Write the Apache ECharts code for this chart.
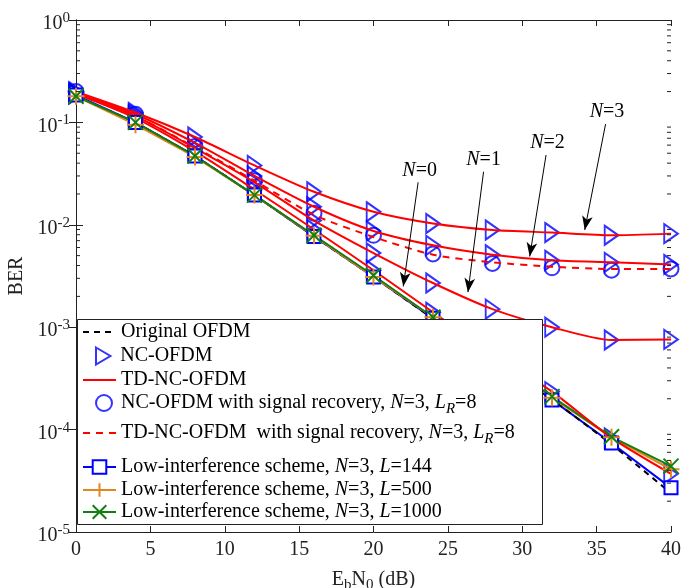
<!DOCTYPE html>
<html>
<head>
<meta charset="UTF-8">
<title>BER</title>
<script src="https://cdn.jsdelivr.net/npm/echarts@6/dist/echarts.min.js"></script>
</head>
<body style="margin:0">
<div id="main" style="width:683px;height:588px"></div>
<script>
// Eb/N0 points (dB)
var ebn0 = [0, 4, 8, 12, 16, 20, 24, 28, 32, 36, 40];

// BER curves
var berOriginal = [0.18, 0.1, 0.047, 0.0195, 0.0077, 0.0031, 0.00121, 0.00051, 0.000198, 0.000072, 0.000024];
var berN0 = [0.19, 0.11, 0.052, 0.022, 0.009, 0.0036, 0.0014, 0.00056, 0.000235, 0.000083, 0.000037];
var berN1 = [0.19, 0.115, 0.056, 0.026, 0.011, 0.0053, 0.0027, 0.0015, 0.001, 0.00075, 0.00076];
var berN2 = [0.195, 0.12, 0.063, 0.03, 0.015, 0.0087, 0.0063, 0.0051, 0.0045, 0.0043, 0.0041];
var berN3 = [0.2, 0.125, 0.072, 0.038, 0.021, 0.0134, 0.0103, 0.0089, 0.0084, 0.0079, 0.0082];
var berRecNC = [0.2, 0.12, 0.058, 0.027, 0.013, 0.0079, 0.0052, 0.0042, 0.0038, 0.0036, 0.0037];
var berRecTD = [0.19, 0.115, 0.057, 0.027, 0.0125, 0.0076, 0.0051, 0.0043, 0.0039, 0.0037, 0.0037];
var berL144 = [0.185, 0.1, 0.047, 0.0195, 0.0077, 0.0031, 0.00122, 0.00052, 0.000195, 0.000074, 0.000027];
var berL500 = [0.18, 0.095, 0.046, 0.0195, 0.0078, 0.0031, 0.00125, 0.00053, 0.000205, 0.000084, 0.000041];
var berL1000 = [0.18, 0.1, 0.047, 0.0195, 0.0079, 0.0032, 0.00125, 0.00053, 0.00021, 0.000085, 0.000044];

var yDecades = [1e-5, 1e-4, 1e-3, 1e-2, 1e-1];
var minorTicks = [];
yDecades.forEach(function (d) {
    for (var k = 2; k <= 9; k++) minorTicks.push([0, k * d]);
});

// arrows: text, text position, arrow start, arrow end (data coords)
var notes = [
    {text: '0', at: [23.1, 0.034], from: [23.0, 0.026], to: [22.0, 0.0025]},
    {text: '1', at: [27.4, 0.043], from: [27.4, 0.033], to: [26.35, 0.0022]},
    {text: '2', at: [31.7, 0.063], from: [31.6, 0.048], to: [30.5, 0.0049]},
    {text: '3', at: [35.7, 0.126], from: [35.6, 0.096], to: [34.2, 0.0089]}
];

function pts(arr) {
    return ebn0.map(function (x, i) { return [x, arr[i]]; });
}

var FONT = "'Liberation Serif', 'Times New Roman', serif";
var BLUE = '#0000ff', RED = '#ff0000', GREEN = '#118011', ORANGE = '#e3861c';
var triSym = 'path://M0,0L17,10L0,20Z';
var plusSym = 'path://M8,0L8,16M0,8L16,8';
var crossSym = 'path://M0,0L14,14M0,14L14,0';

var series = [];

// low-interference + original first (drawn below)
series.push({
    name: 'Low-interference scheme, N=3, L=144', type: 'line', data: pts(berL144),
    symbol: 'rect', symbolSize: 13,
    lineStyle: {color: BLUE, width: 2},
    itemStyle: {color: '#fff', borderColor: BLUE, borderWidth: 2}
});
series.push({
    name: 'Original OFDM', type: 'line', data: pts(berOriginal), symbol: 'none',
    lineStyle: {color: '#000', width: 2, type: [6, 5]}, itemStyle: {color: '#000'},
    markLine: {
        silent: true, symbol: ['none', 'arrow'], symbolSize: [8, 14],
        lineStyle: {color: '#000', width: 1, type: 'solid'},
        label: {show: false},
        data: notes.map(function (n) {
            return [{coord: n.from}, {coord: n.to}];
        })
    },
    markPoint: {
        silent: true, symbol: 'circle', symbolSize: 0,
        label: {
            show: true, position: 'inside', color: '#000', fontFamily: FONT, fontSize: 20,
            formatter: function (p) { return '{i|N}=' + p.name; },
            rich: {i: {fontStyle: 'italic', fontFamily: FONT, fontSize: 20, color: '#000'}}
        },
        data: notes.map(function (n) { return {name: n.text, coord: n.at}; })
    }
});
series.push({
    name: 'Low-interference scheme, N=3, L=500', type: 'line', data: pts(berL500),
    symbol: plusSym, symbolSize: 17,
    lineStyle: {color: ORANGE, width: 2},
    itemStyle: {color: 'rgba(0,0,0,0)', borderColor: ORANGE, borderWidth: 2}
});
series.push({
    name: 'Low-interference scheme, N=3, L=1000', type: 'line', data: pts(berL1000),
    symbol: crossSym, symbolSize: 15,
    lineStyle: {color: GREEN, width: 2},
    itemStyle: {color: 'rgba(0,0,0,0)', borderColor: GREEN, borderWidth: 2}
});

[berN0, berN1, berN2, berN3].forEach(function (arr) {
    series.push({
        name: 'TD-NC-OFDM', type: 'line', data: pts(arr), symbol: 'none', smooth: 0.25,
        lineStyle: {color: RED, width: 2}, itemStyle: {color: RED}
    });
});
series.push({
    name: 'TD-NC-OFDM with signal recovery', type: 'line', data: pts(berRecTD), symbol: 'none', smooth: 0.25,
    lineStyle: {color: RED, width: 2, type: [7, 6]}, itemStyle: {color: RED}
});
[berN0, berN1, berN2, berN3].forEach(function (arr) {
    series.push({
        name: 'NC-OFDM', type: 'scatter', data: pts(arr),
        symbol: triSym, symbolSize: [16, 19], symbolKeepAspect: true,
        itemStyle: {color: 'rgba(0,0,0,0)', borderColor: BLUE, borderWidth: 2}
    });
});
series.push({
    name: 'NC-OFDM with signal recovery', type: 'scatter', data: pts(berRecNC),
    symbol: 'circle', symbolSize: 15,
    itemStyle: {color: 'rgba(0,0,0,0)', borderColor: BLUE, borderWidth: 2}
});

// log minor ticks on both sides
series.push({
    type: 'custom', silent: true, clip: false, data: minorTicks, z: 10,
    encode: {x: 0, y: 1},
    renderItem: function (params, api) {
        var v = api.value(1);
        var a = api.coord([0, v]), b = api.coord([40, v]);
        return {type: 'group', children: [
            {type: 'line', shape: {x1: a[0], y1: a[1], x2: a[0] + 4, y2: a[1]}, style: {stroke: '#222', lineWidth: 1}},
            {type: 'line', shape: {x1: b[0] - 4, y1: b[1], x2: b[0], y2: b[1]}, style: {stroke: '#222', lineWidth: 1}}
        ]};
    }
});

var rich = {
    i: {fontStyle: 'italic', fontFamily: FONT, fontSize: 20, color: '#000'},
    sub: {fontStyle: 'italic', fontFamily: FONT, fontSize: 15, color: '#000', padding: [12, 0, 0, 0]}
};
// name, row centre y, label, kind (line / marker / both)
var legendRows = [
    ['Original OFDM', 333, 'Original OFDM', 'line'],
    ['NC-OFDM', 357, 'NC-OFDM', 'marker'],
    ['TD-NC-OFDM', 381, 'TD-NC-OFDM', 'line'],
    ['NC-OFDM with signal recovery', 404, 'NC-OFDM with signal recovery, {i|N}=3, {i|L}{sub|R}=8', 'marker'],
    ['TD-NC-OFDM with signal recovery', 434, 'TD-NC-OFDM  with signal recovery, {i|N}=3, {i|L}{sub|R}=8', 'line'],
    ['Low-interference scheme, N=3, L=144', 468, 'Low-interference scheme, {i|N}=3, {i|L}=144', 'both'],
    ['Low-interference scheme, N=3, L=500', 491, 'Low-interference scheme, {i|N}=3, {i|L}=500', 'both'],
    ['Low-interference scheme, N=3, L=1000', 513, 'Low-interference scheme, {i|N}=3, {i|L}=1000', 'both']
];
var legends = legendRows.map(function (r) {
    var lg = {
        data: [r[0]], left: 82, top: r[1] - 11, padding: 0,
        itemWidth: 33, itemHeight: 17, itemGap: 0, selectedMode: false, z: 20,
        formatter: function () { return r[2]; },
        textStyle: {fontFamily: FONT, fontSize: 20, color: '#000', rich: rich}
    };
    if (r[3] === 'line') {
        lg.itemStyle = {opacity: 0};
    } else if (r[3] === 'marker') {
        lg.left = 95;
        lg.itemWidth = 16;
        lg.textStyle.padding = [0, 0, 0, 4];
    }
    return lg;
});

var axisText = {fontFamily: FONT, fontSize: 20, color: '#222'};

var option = {
    animation: false,
    backgroundColor: '#fff',
    grid: {left: 76, right: 12, top: 20, bottom: 56, containLabel: false, outerBoundsMode: 'none'},
    legend: legends,
    graphic: [{
        type: 'rect', left: 77, top: 319, z: 15,
        shape: {width: 465, height: 205},
        style: {fill: '#fff', stroke: '#222', lineWidth: 1}
    }],
    xAxis: [{
        type: 'value', min: 0, max: 40, interval: 5,
        name: 'E{sub|b}N{sub|0} (dB)', nameLocation: 'middle', nameGap: 34,
        nameTextStyle: {fontFamily: FONT, fontSize: 20, color: '#222',
            rich: {sub: {fontFamily: FONT, fontSize: 15, color: '#222', padding: [12, 0, 0, 0]}}},
        axisLine: {lineStyle: {color: '#222'}},
        axisTick: {inside: true, length: 6, lineStyle: {color: '#222'}},
        axisLabel: Object.assign({margin: 8}, axisText),
        splitLine: {show: false}
    }, {
        type: 'value', min: 0, max: 40, interval: 5, position: 'top',
        axisLine: {lineStyle: {color: '#222'}},
        axisTick: {inside: true, length: 6, lineStyle: {color: '#222'}},
        axisLabel: {show: false}, splitLine: {show: false}
    }],
    yAxis: [{
        type: 'log', logBase: 10, min: 1e-5, max: 1,
        name: 'BER', nameLocation: 'middle', nameGap: 47,
        nameTextStyle: {fontFamily: FONT, fontSize: 20, color: '#222'},
        axisLine: {show: true, lineStyle: {color: '#222'}},
        axisTick: {show: true, inside: true, length: 7, lineStyle: {color: '#222'}},
        axisLabel: Object.assign({
            margin: 6, padding: [8, 0, 0, 0],
            formatter: function (v) { return '10{sup|' + Math.round(Math.log10(v)) + '}'; },
            rich: {sup: {fontFamily: FONT, fontSize: 15, color: '#222', padding: [0, 0, 12, 0]}}
        }, axisText),
        splitLine: {show: false}
    }, {
        type: 'log', logBase: 10, min: 1e-5, max: 1, position: 'right',
        axisLine: {show: true, lineStyle: {color: '#222'}},
        axisTick: {show: true, inside: true, length: 7, lineStyle: {color: '#222'}},
        axisLabel: {show: false}, splitLine: {show: false}
    }],
    series: series
};

var myChart = echarts.init(document.getElementById('main'));
myChart.setOption(option);
</script>
</body>
</html>
